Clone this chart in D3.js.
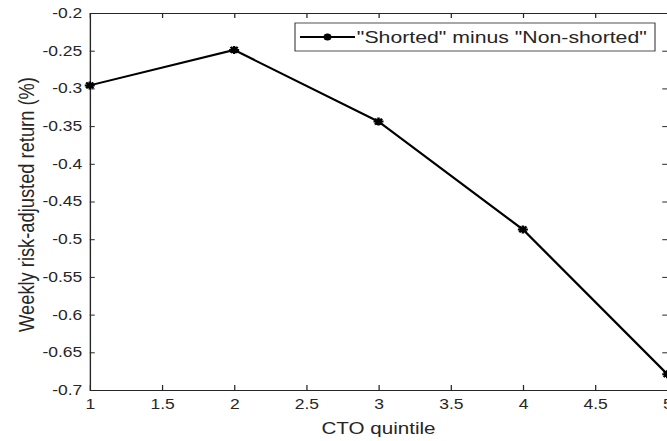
<!DOCTYPE html>
<html>
<head>
<meta charset="utf-8">
<script src="https://cdn.jsdelivr.net/npm/d3@7"></script>
<style>
  html, body { margin: 0; padding: 0; background: #fff; }
  svg { display: block; }
  text { font-family: "Liberation Sans", Arial, Helvetica, sans-serif; fill: #262626; }
</style>
</head>
<body>
<svg id="chart"></svg>
<script>
// data
const quintiles = [1, 2, 3, 4, 5]
const spread = [-0.296, -0.249, -0.344, -0.487, -0.679]
const xTicks = [1, 1.5, 2, 2.5, 3, 3.5, 4, 4.5, 5]
const yTicks = [-0.2, -0.25, -0.3, -0.35, -0.4, -0.45, -0.5, -0.55, -0.6, -0.65, -0.7]
const seriesName = '"Shorted" minus "Non-shorted"'
const xTitle = 'CTO quintile'
const yTitle = 'Weekly risk-adjusted return (%)'

// the original figure is stretched sideways, so draw narrow and stretch
const OUT_W = 667
const OUT_H = 441
const STRETCH = 1.25
const W = OUT_W / STRETCH
const H = OUT_H
const margin = {left: 71.8, right: W - 533.8, top: 13, bottom: H - 390}
const TICK = 5

const x = d3.scaleLinear()
  .domain([1, 5])
  .range([margin.left, W - margin.right])
const y = d3.scaleLinear()
  .domain([-0.7, -0.2])
  .range([H - margin.bottom, margin.top])

const svg = d3.select('#chart')
  .attr('width', OUT_W)
  .attr('height', OUT_H)
  .attr('viewBox', `0 0 ${W} ${H}`)
  .attr('preserveAspectRatio', 'none')

const fmt = d => String(+d.toFixed(2))
const axisColor = '#262626'

// ticks on all four sides (box on)
const gx = svg.append('g')
  .attr('transform', `translate(0,${y.range()[0]})`)
  .call(d3.axisBottom(x).tickValues(xTicks).tickFormat(fmt).tickSizeInner(-TICK).tickSizeOuter(0).tickPadding(9))
const gxTop = svg.append('g')
  .attr('transform', `translate(0,${y.range()[1]})`)
  .call(d3.axisTop(x).tickValues(xTicks).tickFormat('').tickSizeInner(-TICK).tickSizeOuter(0))
const gy = svg.append('g')
  .attr('transform', `translate(${x.range()[0]},0)`)
  .call(d3.axisLeft(y).tickValues(yTicks).tickFormat(fmt).tickSizeInner(-TICK * 0.8).tickSizeOuter(0).tickPadding(6))
const gyRight = svg.append('g')
  .attr('transform', `translate(${x.range()[1]},0)`)
  .call(d3.axisRight(y).tickValues(yTicks).tickFormat('').tickSizeInner(-TICK * 0.8).tickSizeOuter(0))

for (const g of [gx, gxTop, gy, gyRight]) {
  g.select('.domain').attr('stroke', axisColor).attr('stroke-width', 1.1)
  g.selectAll('.tick line').attr('stroke', axisColor).attr('stroke-width', 1)
  g.selectAll('.tick text').attr('fill', axisColor).style('font-size', '14px')
}
gx.selectAll('.tick text').attr('dy', '0.75em')

// axis titles
svg.append('text')
  .attr('x', (x.range()[0] + x.range()[1]) / 2)
  .attr('y', 434)
  .attr('text-anchor', 'middle')
  .style('font-size', '16.5px')
  .text(xTitle)

svg.append('text')
  .attr('transform', `translate(26.8,${(y.range()[0] + y.range()[1]) / 2 + 3}) rotate(-90)`)
  .attr('text-anchor', 'middle')
  .style('font-size', '18.3px')
  .text(yTitle)

// asterisk marker like matlab '*'
function star(cx, cy, r) {
  const d = r * 0.72
  return `M${cx - r},${cy}L${cx + r},${cy}M${cx},${cy - r}L${cx},${cy + r}` +
    `M${cx - d},${cy - d}L${cx + d},${cy + d}M${cx - d},${cy + d}L${cx + d},${cy - d}`
}

const pts = quintiles.map((q, i) => ({q: q, v: spread[i]}))

svg.append('path')
  .datum(pts)
  .attr('fill', 'none')
  .attr('stroke', '#000')
  .attr('stroke-width', 2)
  .attr('d', d3.line().x(d => x(d.q)).y(d => y(d.v)))

svg.selectAll('.mark')
  .data(pts)
  .enter().append('path')
  .attr('class', 'mark')
  .attr('fill', 'none')
  .attr('stroke', '#000')
  .attr('stroke-width', 2)
  .attr('d', d => star(x(d.q), y(d.v), 4))

// legend
const leg = svg.append('g')
leg.append('rect')
  .attr('x', 236).attr('y', 23)
  .attr('width', 288).attr('height', 28)
  .attr('fill', '#fff')
  .attr('stroke', '#262626')
  .attr('stroke-width', 0.8)
leg.append('line')
  .attr('x1', 240).attr('x2', 284)
  .attr('y1', 37).attr('y2', 37)
  .attr('stroke', '#000').attr('stroke-width', 2)
leg.append('path')
  .attr('fill', 'none').attr('stroke', '#000').attr('stroke-width', 2)
  .attr('d', star(262, 37, 3.4))
leg.append('text')
  .attr('x', 285.5).attr('y', 43.5)
  .style('font-size', '17px')
  .attr('fill', '#000')
  .text(seriesName)
</script>
</body>
</html>
